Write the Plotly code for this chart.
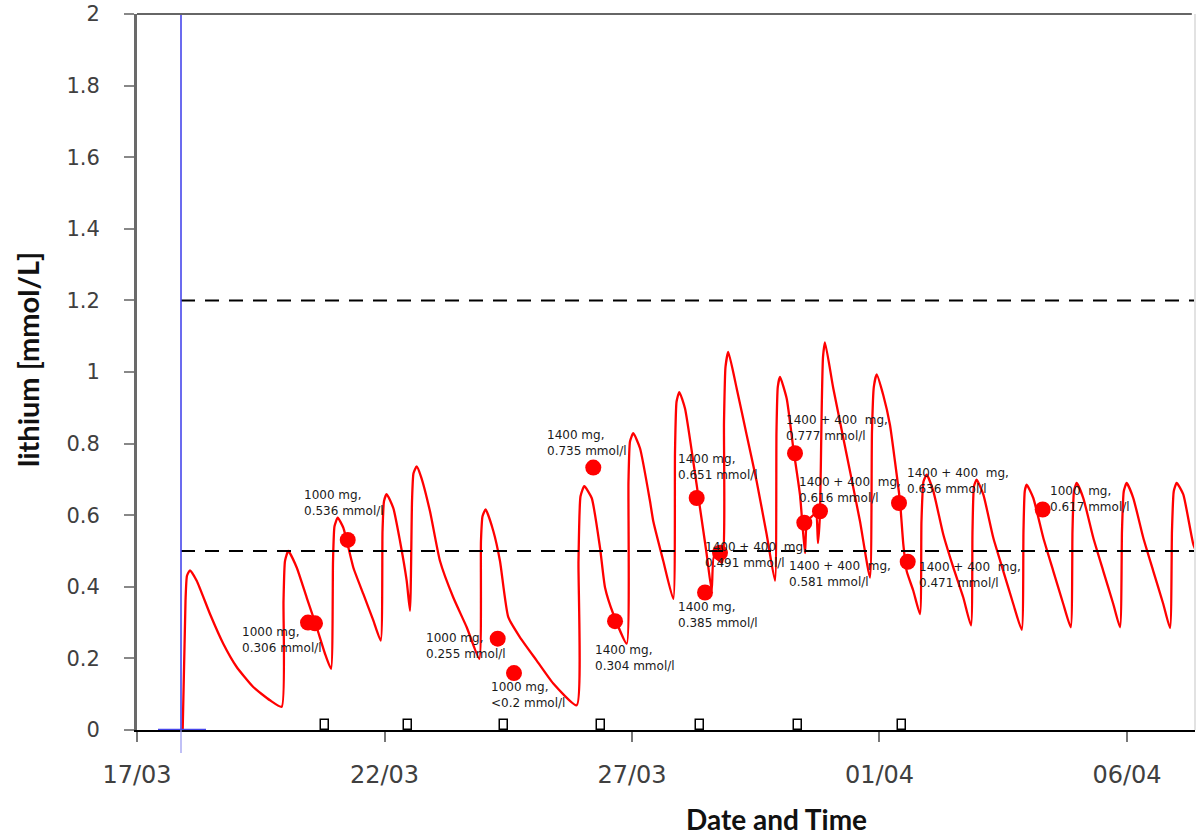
import pandas as pd
import plotly.graph_objects as go

BASE = pd.Timestamp("2014-03-17")

# Simulated lithium level: days after 17/03 00:00 and level in mmol/L
curve_days = [0.923, 0.980, 1.010, 1.071, 1.206, 1.475, 1.743, 2.014, 2.349, 2.687, 2.923,
              2.960, 2.990, 3.057, 3.226, 3.428, 3.630, 3.798, 3.919,
              3.960, 3.990, 4.055, 4.168, 4.370, 4.572, 4.774, 4.923,
              4.960, 4.990, 5.044, 5.178, 5.313, 5.448, 5.515,
              5.556, 5.586, 5.651, 5.737, 5.919, 6.121, 6.390, 6.661, 6.915,
              6.949, 6.980, 7.044, 7.198, 7.333, 7.501, 7.737, 8.075, 8.410, 8.883,
              8.919, 8.960, 9.036, 9.186, 9.354, 9.455, 9.622, 9.893,
              9.929, 9.960, 10.026, 10.162, 10.364, 10.430, 10.632, 10.834,
              10.869, 10.900, 10.956, 11.071, 11.238, 11.374, 11.509, 11.610, 11.657, 11.818,
              11.859, 11.889, 11.945, 12.115, 12.317, 12.519, 12.721, 12.889,
              12.919, 12.945, 12.990, 13.125, 13.259, 13.394, 13.495, 13.535, 13.636, 13.717,
              13.758, 13.798, 13.828, 13.859, 13.899, 14.067, 14.337, 14.606, 14.808,
              14.848, 14.885, 14.943, 15.077, 15.212, 15.313, 15.414, 15.481, 15.549, 15.683, 15.818,
              15.848, 15.889, 15.954, 16.087, 16.289, 16.491, 16.693, 16.848,
              16.879, 16.909, 16.963, 17.097, 17.299, 17.501, 17.703, 17.873,
              17.909, 17.935, 17.974, 18.107, 18.309, 18.511, 18.713, 18.863,
              18.899, 18.929, 18.984, 19.117, 19.319, 19.521, 19.723, 19.859,
              19.899, 19.935, 19.994, 20.127, 20.329, 20.531, 20.733, 20.869,
              20.909, 20.945, 21.004, 21.137, 21.339, 21.414]
curve_level = [0.000, 0.361, 0.431, 0.446, 0.417, 0.324, 0.241, 0.176, 0.120, 0.083, 0.065,
               0.361, 0.472, 0.500, 0.454, 0.370, 0.287, 0.213, 0.171,
               0.472, 0.569, 0.593, 0.565, 0.454, 0.380, 0.306, 0.250,
               0.556, 0.639, 0.659, 0.620, 0.528, 0.417, 0.333,
               0.639, 0.717, 0.736, 0.708, 0.611, 0.472, 0.370, 0.287, 0.199,
               0.528, 0.597, 0.616, 0.556, 0.472, 0.315, 0.259, 0.194, 0.130, 0.069,
               0.472, 0.653, 0.681, 0.648, 0.509, 0.398, 0.324, 0.241,
               0.694, 0.806, 0.829, 0.787, 0.639, 0.583, 0.472, 0.366,
               0.778, 0.917, 0.944, 0.898, 0.750, 0.620, 0.491, 0.389, 0.486, 0.467,
               0.861, 1.014, 1.056, 0.954, 0.824, 0.694, 0.546, 0.417,
               0.833, 0.958, 0.986, 0.926, 0.787, 0.657, 0.494, 0.583, 0.597, 0.606,
               0.522, 0.606, 0.861, 1.042, 1.083, 0.954, 0.769, 0.583, 0.426,
               0.833, 0.958, 0.993, 0.935, 0.852, 0.750, 0.639, 0.519, 0.444, 0.389, 0.324,
               0.583, 0.694, 0.713, 0.667, 0.546, 0.454, 0.370, 0.292,
               0.556, 0.681, 0.699, 0.658, 0.537, 0.444, 0.352, 0.280,
               0.556, 0.667, 0.685, 0.648, 0.537, 0.444, 0.352, 0.287,
               0.556, 0.667, 0.690, 0.648, 0.537, 0.444, 0.352, 0.287,
               0.556, 0.667, 0.690, 0.648, 0.537, 0.444, 0.352, 0.285,
               0.556, 0.667, 0.690, 0.658, 0.519, 0.494]

# Measured samples (red dots)
sample_days = [3.455, 3.596, 4.257, 7.287, 7.616, 9.218, 9.657, 11.307, 11.475, 11.778,
               13.293, 13.481, 13.798, 15.394, 15.570, 18.297]
sample_level = [0.300, 0.298, 0.531, 0.255, 0.159, 0.733, 0.304, 0.648, 0.384, 0.495,
                0.773, 0.579, 0.611, 0.634, 0.470, 0.616]

# Sample labels
label_texts = ["1000 mg,<br>0.306 mmol/l", "1000 mg,<br>0.536 mmol/l",
               "1000 mg,<br>0.255 mmol/l", "1000 mg,<br>&lt;0.2 mmol/l",
               "1400 mg,<br>0.735 mmol/l", "1400 mg,<br>0.304 mmol/l",
               "1400 mg,<br>0.651 mmol/l", "1400 mg,<br>0.385 mmol/l",
               "1400 + 400  mg,<br>0.491 mmol/l", "1400 + 400  mg,<br>0.777 mmol/l",
               "1400 + 400  mg,<br>0.616 mmol/l", "1400 + 400  mg,<br>0.581 mmol/l",
               "1400 + 400  mg,<br>0.636 mmol/l", "1400 + 400  mg,<br>0.471 mmol/l",
               "1000  mg,<br>0.617 mmol/l"]
label_days = [2.081, 3.333, 5.798, 7.111, 8.242, 9.212, 10.889, 10.889, 11.434,
              13.071, 13.333, 13.131, 15.515, 15.758, 18.404]
label_level = [0.300, 0.681, 0.281, 0.144, 0.850, 0.250, 0.781, 0.369, 0.536,
               0.892, 0.717, 0.483, 0.744, 0.481, 0.692]

# Small event pulses on the baseline
event_days = [3.798, 5.475, 7.414, 9.374, 11.374, 13.354, 15.455]
event_height = [0.028, 0.028, 0.028, 0.028, 0.028, 0.028, 0.028]

# Reference levels and start marker
ref_levels = [1.2, 0.5]
start_day = 0.889
blue_base = [0.424, 1.394]
x_end_day = 21.374

y_ticks = [0, 0.2, 0.4, 0.6, 0.8, 1, 1.2, 1.4, 1.6, 1.8, 2]
y_ticklabels = ["0", "0.2", "0.4", "0.6", "0.8", "1", "1.2", "1.4", "1.6", "1.8", "2"]
x_tick_days = [0, 5, 10, 15, 20]
x_ticklabels = ["17/03", "22/03", "27/03", "01/04", "06/04"]


def to_dt(days):
    return [BASE + pd.Timedelta(days=d) for d in days]


fig = go.Figure()

fig.add_trace(go.Bar(
    x=to_dt(event_days), y=event_height, width=0.16 * 86400000,
    marker=dict(color="white", line=dict(color="black", width=1.5)),
    showlegend=False, hoverinfo="skip"))

fig.add_trace(go.Scatter(
    x=to_dt(curve_days), y=curve_level, mode="lines",
    line=dict(color="#ff0000", width=2.3, shape="spline", smoothing=0.5),
    showlegend=False))

fig.add_trace(go.Scatter(
    x=to_dt(sample_days), y=sample_level, mode="markers",
    marker=dict(color="#ff0000", size=16, line=dict(width=0)), showlegend=False))

shapes = []
for lv in ref_levels:
    shapes.append(dict(type="line", xref="x", yref="y",
                       x0=to_dt([start_day])[0], x1=to_dt([x_end_day])[0], y0=lv, y1=lv,
                       line=dict(color="black", width=2, dash="14px,10px")))
sd = to_dt([start_day])[0]
shapes.append(dict(type="line", xref="x", yref="paper", x0=sd, x1=sd, y0=0, y1=1,
                   line=dict(color="rgb(70,70,235)", width=1.6)))
shapes.append(dict(type="line", xref="x", yref="paper", x0=sd, x1=sd, y0=-0.032, y1=0,
                   line=dict(color="rgb(150,150,240)", width=1.2)))
bb = to_dt(blue_base)
shapes.append(dict(type="line", xref="x", yref="y", x0=bb[0], x1=bb[1], y0=0, y1=0,
                   line=dict(color="rgb(70,70,235)", width=2.5), layer="above"))
# top and right frame
shapes.append(dict(type="line", xref="paper", yref="paper", x0=0, x1=0.997, y0=1, y1=1,
                   line=dict(color="#666666", width=2)))
shapes.append(dict(type="line", xref="paper", yref="paper", x0=1, x1=1, y0=0, y1=1.0,
                   line=dict(color="#e2e2e2", width=2)))

annotations = []
for t, d, v in zip(label_texts, label_days, label_level):
    annotations.append(dict(x=to_dt([d])[0], y=v, xref="x", yref="y", text=t,
                            showarrow=False, xanchor="left", yanchor="top", align="left",
                            font=dict(family="DejaVu Sans", size=12, color="#1a1a1a")))
annotations.append(dict(x=-0.104, y=0.518, xref="paper", yref="paper",
                        xanchor="center", yanchor="middle",
                        text="<b>lithium [mmol/L]</b>", textangle=-90, showarrow=False,
                        font=dict(family="Lato", size=29, color="#111111")))
annotations.append(dict(x=0.604, y=-0.124, xref="paper", yref="paper",
                        xanchor="center", yanchor="middle",
                        text="<b>Date and Time</b>", showarrow=False,
                        font=dict(family="Lato", size=28, color="#111111")))

fig.update_layout(
    width=1200, height=837,
    margin=dict(l=137, r=5, t=14, b=107, autoexpand=False),
    paper_bgcolor="white", plot_bgcolor="white",
    shapes=shapes, annotations=annotations,
    bargap=0,
    xaxis=dict(
        type="date", automargin=False,
        range=[BASE, to_dt([x_end_day])[0]],
        tickvals=to_dt(x_tick_days), ticktext=x_ticklabels,
        showgrid=False, zeroline=False,
        showline=True, linecolor="black", linewidth=2,
        ticks="outside", ticklen=10, tickcolor="#777777", tickwidth=1.5,
        ticklabelstandoff=12,
        tickfont=dict(family="DejaVu Sans", size=24, color="#404040"),
    ),
    yaxis=dict(
        range=[0, 2], automargin=False,
        tickvals=y_ticks, ticktext=y_ticklabels,
        showgrid=False, zeroline=False,
        showline=True, linecolor="#6a6a6a", linewidth=3,
        ticks="outside", ticklen=10, tickcolor="#888888", tickwidth=2,
        ticklabelstandoff=20, ticklabeloverflow="allow",
        tickfont=dict(family="DejaVu Sans", size=21, color="#404040"),
    ),
)

fig.write_html("out.html", config={"displayModeBar": False},
               post_script="document.body.style.margin='0';")
